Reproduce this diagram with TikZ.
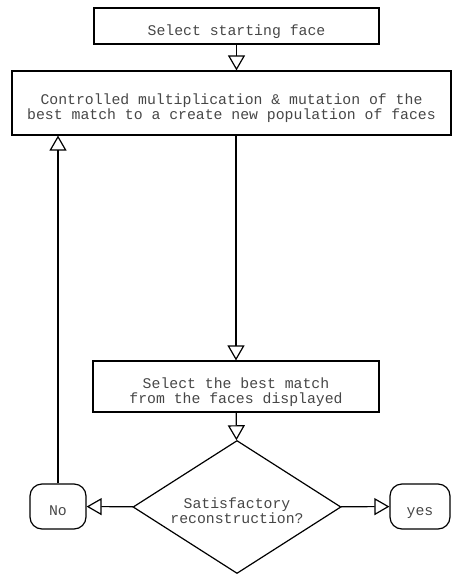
\documentclass[tikz,border=0pt]{standalone}
\usepackage{fontspec}
\setmonofont{Liberation Mono}
\usepackage{tikz}
\usetikzlibrary{arrows.meta,positioning,shapes.geometric}
\definecolor{fcink}{RGB}{70,70,70}
% text sits a little below the middle of every box
\newcommand{\lowtext}[1]{%
  \raisebox{-6pt}[\height][\depth]{\begin{tabular}{@{}c@{}}#1\end{tabular}}}

\begin{document}
\begin{tikzpicture}[x=1pt,y=-1pt,
    font=\ttfamily\fontsize{14.8}{15}\selectfont,
    stepbox/.style={draw,line width=1.2pt,rectangle,text=fcink,inner sep=2pt},
    ask/.style={draw,line width=1.2pt,diamond,aspect=1.56,text=fcink,inner sep=0pt},
    ending/.style={draw,line width=1.2pt,rectangle,rounded corners=12pt,text=fcink,
      minimum height=45pt},
    flow/.style={line width=1.2pt,-{Triangle[open,length=15pt,width=17pt,line width=1.2pt]}}]
    \useasboundingbox (0,0) rectangle (452,575);
    % boxes of the loop
    \node[stepbox,minimum width=285pt,minimum height=36pt] (start) at (236.5,26)
      {\lowtext{Select starting face}};
    \node[stepbox,minimum width=439pt,minimum height=64pt] (breed) at (231.5,103)
      {\lowtext{Controlled multiplication \& mutation of the\\
       best match to a create new population of faces}};
    \node[stepbox,minimum width=286pt,minimum height=51pt] (pick) at (236,386.5)
      {\lowtext{Select the best match\\from the faces displayed}};
    \node[ask,minimum width=208pt,minimum height=133pt] (check) at (237,507)
      {\lowtext{Satisfactory\\reconstruction?}};
    \node[ending,minimum width=56pt] (no) at (58,506.5) {\lowtext{No}};
    \node[ending,minimum width=60pt] (yes) at (420,506.5) {\lowtext{yes}};
    % connectors
    \draw[flow] (start) -- (start.south |- breed.north);
    \draw[flow] (pick.north |- breed.south) -- (pick);
    \draw[flow] (pick) -- (check);
    \draw[flow] (check) -- (no);
    \draw[flow] (check) -- (yes);
    \draw[flow] (no) -- (no.north |- breed.south);
  \end{tikzpicture}
\end{document}
